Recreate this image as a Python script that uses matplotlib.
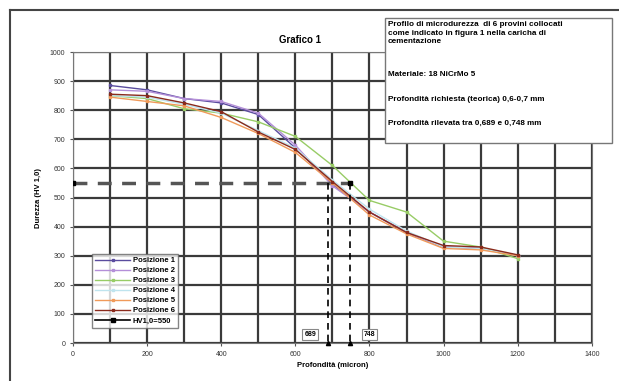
import matplotlib.pyplot as plt
from matplotlib.lines import Line2D
from matplotlib.patches import Rectangle

depth = [100, 200, 300, 400, 500, 600, 700, 800, 900, 1000, 1100, 1200]
pos1 = [885, 870, 840, 825, 785, 670, 545, 450, 380, 330, 325, 300]
pos2 = [870, 865, 840, 830, 790, 680, 540, 450, 380, 330, 325, 300]
pos3 = [850, 840, 805, 790, 760, 710, 610, 490, 450, 350, 330, 290]
pos4 = [850, 845, 820, 790, 730, 670, 560, 460, 385, 330, 325, 300]
pos5 = [845, 830, 815, 775, 720, 655, 550, 440, 375, 325, 320, 300]
pos6 = [855, 850, 825, 795, 725, 665, 555, 450, 380, 335, 330, 303]
labels = ['Posizione 1', 'Posizione 2', 'Posizione 3',
          'Posizione 4', 'Posizione 5', 'Posizione 6']
colors = ['#5a4c9e', '#b48fd8', '#98cc66', '#bfe4ee', '#f09a5a', '#8a2a1c']

hv_limit = 550
depth_min = 689
depth_max = 748

fig = plt.figure(figsize=(6.19, 3.81), dpi=100)
plt.rcParams['font.family'] = ['Liberation Sans', 'DejaVu Sans']
ax = fig.add_axes([0.118, 0.0997, 0.838, 0.7638])

for ys, lab, c in zip([pos1, pos2, pos3, pos4, pos5, pos6], labels, colors):
    ax.plot(depth, ys, color=c, lw=1.0, marker='s', ms=2, label=lab, zorder=3)

# HV1,0 = 550 reference
ax.plot([0, depth_max], [hv_limit, hv_limit], color='#555555', lw=2.5,
        dashes=(4, 3), zorder=4)
ax.plot([depth_min, depth_min], [hv_limit, 0], color='black', lw=1.2,
        dashes=(4, 3), zorder=4)
ax.plot([depth_max, depth_max], [hv_limit, 0], color='black', lw=1.2,
        dashes=(4, 3), zorder=4)
ax.plot([0, depth_max], [hv_limit, hv_limit], ls='none', marker='s',
        ms=3, color='black', zorder=5)
ax.plot([depth_min, depth_max], [0, 0], ls='none', marker='^', ms=3,
        color='black', zorder=5, clip_on=False)
ax.plot([], [], color='black', lw=1.2, marker='s', ms=3, label='HV1,0=550')

for v, xt in [(depth_min, 640), (depth_max, 800)]:
    ax.text(xt, 28, str(v), fontsize=5, fontweight='bold', ha='center',
            va='center', bbox=dict(boxstyle='square,pad=0.3', fc='white',
                                   ec='#888888', lw=0.8), zorder=6)

ax.set_xlim(0, 1400)
ax.set_ylim(0, 1000)
ax.set_xticks(range(0, 1401, 200))
ax.set_xticks(range(100, 1400, 200), minor=True)
ax.set_yticks(range(0, 1001, 100))
ax.grid(which='both', color='#3a3a3a', lw=1.6)
ax.set_axisbelow(True)
ax.tick_params(labelsize=5, length=2, width=0.8, color='#555555',
               labelcolor='#333333')
ax.tick_params(which='minor', length=0)
for s in ax.spines.values():
    s.set_color('#777777')
ax.set_xlabel('Profondità (micron)', fontsize=5.5, fontweight='bold', labelpad=3)
ax.set_ylabel('Durezza (HV 1,0)', fontsize=5.5, fontweight='bold', labelpad=6)
ax.text(612, 1030, 'Grafico 1', fontsize=7, fontweight='bold', ha='center')

leg = ax.legend(loc='lower left', bbox_to_anchor=(0.03, 0.04), fontsize=5.5,
                frameon=True, fancybox=False, edgecolor='#666666',
                borderpad=0.4, labelspacing=0.35, handlelength=4.5,
                handletextpad=0.4)
for t in leg.get_texts():
    t.set_fontweight('bold')

# outer chart frame
fig.add_artist(Line2D([0.016, 1.0], [0.974, 0.974], color='#444444', lw=1.5))
fig.add_artist(Line2D([0.016, 0.016], [0.0, 0.974], color='#444444', lw=1.5))

# info box
fig.add_artist(Rectangle((0.622, 0.625), 0.367, 0.328, fc='white',
                         ec='#777777', lw=1.0, zorder=10))
info = [(0.935, 'Profilo di microdurezza  di 6 provini collocati'),
        (0.913, 'come indicato in figura 1 nella caricha di'),
        (0.891, 'cementazione'),
        (0.805, 'Materiale: 18 NiCrMo 5'),
        (0.740, 'Profondità richiesta (teorica) 0,6-0,7 mm'),
        (0.675, 'Profondità rilevata tra 0,689 e 0,748 mm')]
for yy, s in info:
    fig.text(0.627, yy, s, fontsize=5.9, fontweight='bold', va='center',
             zorder=11)

fig.savefig('out.png', dpi=100)
